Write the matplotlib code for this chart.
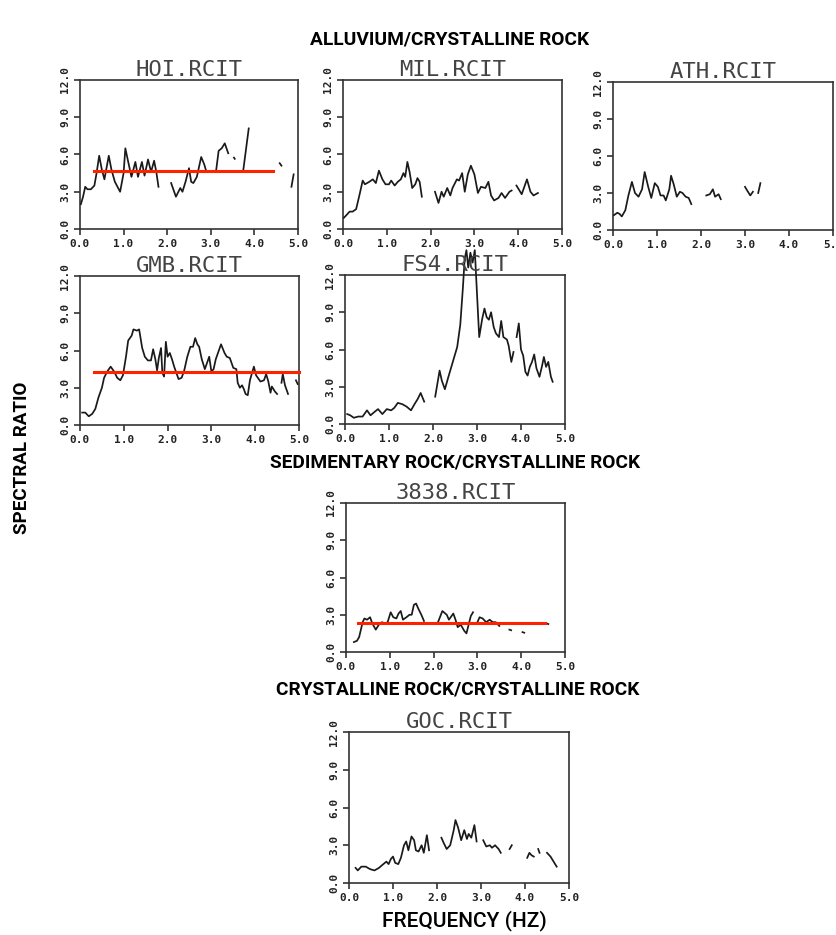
import numpy as np
import matplotlib.pyplot as plt

nan = np.nan

# station ratio curves (frequency in Hz, spectral ratio); nan = gap in the trace
hoi_freq = [0.02, 0.07, 0.12, 0.17, 0.25, 0.33, 0.38, 0.44, 0.5, 0.56, 0.66, 0.72, 0.8, 0.92, 1.0, 1.04,
            1.1, 1.18, 1.27, 1.33, 1.42, 1.48, 1.56, 1.63, 1.7, 1.75, 1.8, 1.95,
            2.09, 2.2, 2.3, 2.35, 2.42, 2.5, 2.55, 2.6, 2.68, 2.78, 2.85, 2.9, 3.0,
            3.12, 3.18, 3.25, 3.32, 3.4, 3.47, 3.53, 3.55, 3.65,
            3.74, 3.87, 4.2, 4.58, 4.62, 4.75, 4.85, 4.9]
hoi_ratio = [2.0, 2.6, 3.4, 3.2, 3.2, 3.5, 4.5, 5.9, 4.8, 4.0, 5.9, 4.8, 3.8, 3.0, 4.5, 6.5,
             5.5, 4.2, 5.4, 4.2, 5.4, 4.3, 5.6, 4.6, 5.5, 4.6, 3.4, nan,
             3.7, 2.6, 3.3, 3.0, 3.8, 4.9, 3.8, 3.7, 4.2, 5.8, 5.2, 4.6, nan,
             4.65, 6.3, 6.5, 6.9, 6.1, nan, 5.75, 5.65, nan,
             4.6, 8.1, nan, 5.3, 5.1, nan, 3.4, 4.4]

mil_freq = [0.02, 0.1, 0.15, 0.22, 0.3, 0.38, 0.45, 0.5, 0.6, 0.68, 0.75, 0.82, 0.9, 0.97, 1.05, 1.1,
            1.18, 1.25, 1.32, 1.38, 1.42, 1.47, 1.52, 1.58, 1.65, 1.7, 1.75, 1.8, 1.95,
            2.1, 2.18, 2.25, 2.3, 2.38, 2.45, 2.5, 2.6, 2.65, 2.72, 2.78, 2.85, 2.92, 3.0, 3.08,
            3.15, 3.25, 3.32, 3.38, 3.45, 3.55, 3.62, 3.7, 3.8, 3.85, 3.9,
            3.96, 4.08, 4.2, 4.28, 4.35, 4.45]
mil_ratio = [0.9, 1.2, 1.4, 1.4, 1.6, 2.8, 3.9, 3.6, 3.8, 4.0, 3.7, 4.7, 4.0, 3.6, 3.6, 3.9,
             3.5, 3.8, 4.0, 4.5, 4.2, 5.4, 4.6, 3.3, 3.6, 4.1, 3.8, 2.6, nan,
             3.0, 2.1, 3.0, 2.6, 3.3, 2.7, 3.3, 4.0, 3.9, 4.5, 3.0, 4.4, 5.1, 4.4, 2.9,
             3.4, 3.3, 3.8, 2.7, 2.3, 2.5, 2.9, 2.5, 3.0, 3.1, nan,
             3.5, 2.8, 4.0, 3.0, 2.7, 2.9]

ath_freq = [0.02, 0.1, 0.15, 0.2, 0.28, 0.35, 0.43, 0.5, 0.58, 0.66, 0.72, 0.8, 0.87, 0.95, 1.02, 1.08,
            1.15, 1.2, 1.28, 1.32, 1.38, 1.45, 1.52, 1.58, 1.65, 1.72, 1.78, 1.9,
            2.12, 2.2, 2.27, 2.32, 2.4, 2.45, 2.7,
            3.0, 3.05, 3.12, 3.18, 3.25, 3.3, 3.35]
ath_ratio = [1.2, 1.4, 1.3, 1.1, 1.6, 2.8, 3.9, 3.0, 2.7, 3.3, 4.7, 3.5, 2.6, 3.8, 3.5, 2.8,
             2.8, 2.4, 3.3, 4.4, 3.7, 2.7, 3.1, 3.0, 2.7, 2.6, 2.1, nan,
             2.8, 2.9, 3.3, 2.7, 2.9, 2.5, nan,
             3.5, 3.2, 2.8, 3.1, nan, 3.0, 3.8]

gmb_freq = [0.05, 0.12, 0.2, 0.28, 0.35, 0.42, 0.5, 0.55, 0.62, 0.7, 0.78, 0.85, 0.92, 0.98, 1.05, 1.1,
            1.18, 1.22, 1.3, 1.35, 1.42, 1.48, 1.55, 1.62, 1.67, 1.72, 1.76, 1.8, 1.85, 1.88,
            1.92, 1.96, 2.0, 2.05, 2.1, 2.15, 2.2, 2.25, 2.32, 2.38, 2.45, 2.52, 2.58, 2.63,
            2.68, 2.72, 2.78, 2.85, 2.9, 2.95, 3.0, 3.05, 3.1, 3.18, 3.22, 3.3, 3.35, 3.42,
            3.5, 3.57, 3.6, 3.65, 3.7, 3.74, 3.78, 3.83, 3.88, 3.92, 3.97, 4.02, 4.06, 4.12,
            4.2, 4.25, 4.3, 4.35, 4.38, 4.45, 4.5, 4.56,
            4.6, 4.63, 4.68, 4.75, 4.85, 4.93, 4.97]
gmb_ratio = [1.0, 1.0, 0.7, 0.9, 1.3, 2.2, 3.0, 3.8, 4.3, 4.7, 4.3, 3.8, 3.6, 4.0, 5.5, 6.8,
             7.2, 7.7, 7.6, 7.7, 6.2, 5.5, 5.2, 5.2, 6.1, 5.3, 4.4, 5.4, 6.2, 4.2,
             3.9, 6.7, 5.5, 5.8, 5.3, 4.7, 4.2, 3.7, 3.8, 4.4, 5.5, 6.3, 6.3, 7.0,
             6.5, 6.3, 5.3, 4.5, 5.0, 5.5, 4.3, 4.5, 5.3, 6.1, 6.5, 5.8, 5.5, 5.4,
             4.6, 4.5, 3.4, 3.0, 3.2, 2.9, 2.5, 2.4, 3.6, 4.1, 4.7, 4.0, 3.8, 3.5,
             3.6, 4.1, 3.5, 2.6, 3.1, 2.7, 2.5, nan,
             3.4, 4.1, 3.2, 2.5, nan, 3.6, 3.3]

fs4_freq = [0.05, 0.12, 0.2, 0.3, 0.4, 0.5, 0.58, 0.68, 0.75, 0.85, 0.95, 1.05, 1.12, 1.2, 1.3, 1.4,
            1.5, 1.58, 1.65, 1.72, 1.8, 1.9,
            2.05, 2.15, 2.2, 2.27, 2.35, 2.45, 2.55, 2.62, 2.68, 2.72, 2.76, 2.8, 2.85, 2.9,
            2.95, 3.0, 3.05, 3.12, 3.17, 3.22, 3.27, 3.32, 3.38, 3.43, 3.5, 3.55, 3.6, 3.68,
            3.72, 3.78, 3.83, 3.87,
            3.9, 3.95, 4.0, 4.05, 4.1, 4.15, 4.2, 4.25, 4.3, 4.35, 4.42, 4.48, 4.52, 4.57,
            4.62, 4.68, 4.72]
fs4_ratio = [0.8, 0.7, 0.5, 0.6, 0.6, 1.1, 0.7, 1.0, 1.2, 0.8, 1.2, 1.1, 1.3, 1.7, 1.6, 1.4,
             1.1, 1.6, 2.0, 2.5, 1.8, nan,
             2.2, 4.3, 3.5, 2.8, 3.8, 5.0, 6.2, 8.0, 11.0, 13.3, 14.0, 12.6, 13.8, 13.0,
             14.0, 10.5, 7.0, 8.5, 9.3, 8.6, 8.4, 9.0, 7.8, 7.3, 7.0, 8.3, 7.0, 6.8,
             6.3, 5.0, 5.8, nan,
             7.0, 8.1, 6.0, 5.5, 4.2, 3.9, 4.6, 5.0, 5.6, 4.5, 3.8, 4.7, 5.4, 4.6,
             5.0, 3.8, 3.4]

r3838_freq = [0.18, 0.25, 0.3, 0.38, 0.42, 0.48, 0.55, 0.6, 0.68, 0.75, 0.82, 0.9, 0.95, 1.02, 1.08,
              1.15, 1.2, 1.25, 1.3, 1.38, 1.45, 1.5, 1.55, 1.6, 1.65, 1.72, 1.78, 1.95,
              2.1, 2.2, 2.3, 2.35, 2.45, 2.5, 2.55, 2.62, 2.7, 2.75, 2.8, 2.85, 2.9, 2.95,
              3.0, 3.05, 3.12, 3.2, 3.28, 3.35, 3.42, 3.5, 3.6,
              3.73, 3.77, 3.9, 4.03, 4.07, 4.3, 4.58, 4.62]
r3838_ratio = [0.8, 0.9, 1.2, 2.4, 2.7, 2.6, 2.8, 2.3, 1.8, 2.2, 2.4, 2.3, 2.4, 3.2, 2.8,
               2.7, 3.1, 3.3, 2.6, 2.8, 3.0, 3.0, 3.8, 3.9, 3.5, 3.0, 2.5, nan,
               2.4, 3.3, 3.0, 2.6, 3.1, 2.6, 2.0, 2.2, 1.7, 1.5, 2.2, 2.9, 3.2, nan,
               2.4, 2.8, 2.7, 2.4, 2.6, 2.4, 2.4, 2.1, nan,
               1.8, 1.75, nan, 1.6, 1.55, nan, 2.3, 2.25]

goc_freq = [0.15, 0.2, 0.28, 0.38, 0.48, 0.58, 0.68, 0.78, 0.85, 0.9, 0.95, 1.0, 1.05, 1.12, 1.18,
            1.25, 1.3, 1.35, 1.42, 1.48, 1.52, 1.58, 1.65, 1.7, 1.77, 1.82, 1.95,
            2.1, 2.15, 2.22, 2.3, 2.38, 2.42, 2.48, 2.55, 2.62, 2.68, 2.72, 2.78, 2.85, 2.9, 2.98,
            3.05, 3.12, 3.2, 3.25, 3.32, 3.4, 3.45, 3.55,
            3.65, 3.7, 3.9,
            4.05, 4.1, 4.15, 4.2, 4.25,
            4.3, 4.33, 4.4,
            4.5, 4.58, 4.65, 4.72]
goc_ratio = [1.2, 1.0, 1.3, 1.3, 1.1, 1.0, 1.2, 1.5, 1.7, 1.5, 1.9, 2.1, 1.6, 1.5, 2.0,
             3.0, 3.3, 2.6, 3.7, 3.4, 2.6, 2.5, 3.0, 2.4, 3.8, 2.6, nan,
             3.6, 3.2, 2.7, 3.0, 4.2, 5.0, 4.4, 3.4, 4.2, 3.5, 3.9, 3.6, 4.6, 3.3, nan,
             3.4, 2.9, 3.0, 2.8, 3.0, 2.7, 2.4, nan,
             2.7, 3.0, nan,
             2.0, 2.4, 2.2, 2.1, nan,
             2.7, 2.4, nan,
             2.4, 2.1, 1.7, 1.3]

# average levels drawn in red (start Hz, end Hz, ratio)
hoi_mean = [0.33, 4.43, 4.7]
gmb_mean = [0.33, 5.0, 4.3]
r3838_mean = [0.27, 4.55, 2.3]

stations = ["HOI.RCIT", "MIL.RCIT", "ATH.RCIT", "GMB.RCIT", "FS4.RCIT", "3838.RCIT", "GOC.RCIT"]
curves = [(hoi_freq, hoi_ratio), (mil_freq, mil_ratio), (ath_freq, ath_ratio), (gmb_freq, gmb_ratio),
          (fs4_freq, fs4_ratio), (r3838_freq, r3838_ratio), (goc_freq, goc_ratio)]
means = [hoi_mean, None, None, gmb_mean, None, r3838_mean, None]

xticks = [0, 1, 2, 3, 4, 5]
yticks = [0, 3, 6, 9, 12]

W, H = 836, 935
# axes boxes in pixels: left, top, right, bottom
boxes = [(80, 80, 298, 229), (343, 80, 562, 229), (613, 82, 833, 230),
         (80, 276, 299, 425), (345, 275, 565, 424),
         (346, 503, 565, 652), (349, 732, 569, 883)]

fig = plt.figure(figsize=(W / 100, H / 100), dpi=100)
mono = "DejaVu Sans Mono"
head = "Roboto"

for name, (f, r), m, (l, t, rr, b) in zip(stations, curves, means, boxes):
    ax = fig.add_axes([l / W, 1 - b / H, (rr - l) / W, (b - t) / H])
    ax.plot(f, r, color="#1a1a1a", lw=1.25, clip_on=(name != "FS4.RCIT"), zorder=3)
    if m is not None:
        ax.plot([m[0], m[1]], [m[2], m[2]], color="#ff2200", lw=2.2, zorder=4, clip_on=False)
    ax.set_xlim(0, 5)
    ax.set_ylim(0, 12)
    ax.set_xticks(xticks)
    ax.set_xticklabels([f"{v:.1f}" for v in xticks], family=mono, fontsize=8, fontweight="bold")
    ax.set_yticks(yticks)
    ax.set_yticklabels([f"{v:.1f}" for v in yticks], family=mono, fontsize=8, fontweight="bold",
                       rotation=90, va="center")
    ax.tick_params(direction="out", length=4, width=1.1, colors="#222222", pad=3)
    for s in ax.spines.values():
        s.set_linewidth(1.2)
        s.set_color("#333333")
    ax.set_title(name, family=mono, fontsize=16, color="#444444", pad=1)

fig.text(450 / W, 1 - 40 / H, "ALLUVIUM/CRYSTALLINE ROCK", family=head, fontsize=13.8,
         fontweight="bold", ha="center", va="center")
fig.text(455 / W, 1 - 463 / H, "SEDIMENTARY ROCK/CRYSTALLINE ROCK", family=head, fontsize=13.8,
         fontweight="bold", ha="center", va="center")
fig.text(458 / W, 1 - 689 / H, "CRYSTALLINE ROCK/CRYSTALLINE ROCK", family=head, fontsize=13.8,
         fontweight="bold", ha="center", va="center")
fig.text(464 / W, 1 - 921 / H, "FREQUENCY (HZ)", family=head, fontsize=15,
         fontweight="medium", ha="center", va="center")
fig.text(22 / W, 1 - 458 / H, "SPECTRAL RATIO", family=head, fontsize=13.5,
         fontweight="bold", ha="center", va="center", rotation=90)

fig.savefig("out.png", dpi=100)
